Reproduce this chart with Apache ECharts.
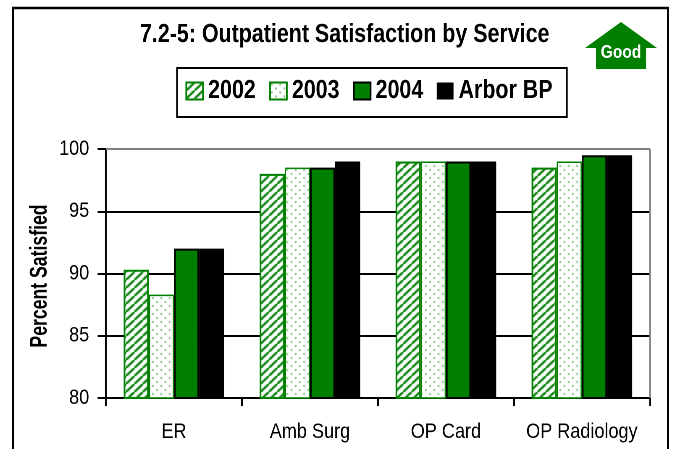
<!DOCTYPE html>
<html><head><meta charset="utf-8">
<style>html,body{margin:0;padding:0;background:#fff;overflow:hidden}
#c{width:801.2px;height:449px;transform:scaleX(0.84);transform-origin:0 0}</style>
<script src="https://cdn.jsdelivr.net/npm/echarts@6/dist/echarts.min.js"></script></head>
<body><div id="c"></div>
<script>
const categories = ['ER','Amb Surg','OP Card','OP Radiology'];
const seriesNames = ['2002','2003','2004','Arbor BP'];
const values2002 = [90.3,98,99,98.5];
const values2003 = [88.3,98.5,99,99];
const values2004 = [92,98.5,99,99.5];
const valuesArbor = [92,99,99,99.5];
const GREEN='#007f00';
const S=0.84, X=x=>x/S;
function hatch(){const c=document.createElement('canvas');c.width=10;c.height=8;const g=c.getContext('2d');
 g.fillStyle='#fff';g.fillRect(0,0,10,8);g.strokeStyle=GREEN;g.lineWidth=2.4;
 [[-10,8,0,0],[0,8,10,0],[10,8,20,0]].forEach(l=>{g.beginPath();g.moveTo(l[0],l[1]);g.lineTo(l[2],l[3]);g.stroke();});return c;}
function dots(){const c=document.createElement('canvas');c.width=10;c.height=8;const g=c.getContext('2d');
 g.fillStyle='#fff';g.fillRect(0,0,10,8);g.fillStyle='#7fc07f';g.fillRect(1,1,2,2);g.fillRect(6,5,2,2);return c;}
const styles=[
 {color:{image:hatch(),repeat:'repeat'},borderColor:GREEN,borderWidth:2},
 {color:{image:dots(),repeat:'repeat'},borderColor:GREEN,borderWidth:1.5},
 {color:GREEN,borderColor:'#000',borderWidth:2},
 {color:'#000',borderColor:'#000',borderWidth:0}];
const all=[values2002,values2003,values2004,valuesArbor];
const FF='"Liberation Sans",Arial,sans-serif';
const chart=echarts.init(document.getElementById('c'),null,{renderer:'canvas',devicePixelRatio:2});
chart.setOption({
 animation:false,
 backgroundColor:'#fff',
 title:{text:'7.2-5: Outpatient Satisfaction by Service',left:X(340.5),top:17,textAlign:'center',
  textStyle:{fontFamily:FF,fontSize:25.5,fontWeight:'bold',color:'#000'}},
 legend:{data:seriesNames,icon:'rect',left:X(177),top:68,itemWidth:20,itemHeight:17,itemGap:16,
  padding:[10,17,13,10],borderColor:'#000',borderWidth:2,backgroundColor:'#fff',
  textStyle:{fontFamily:FF,fontSize:25.5,fontWeight:'bold',color:'#000',padding:[0,0,0,1]}},
 grid:{left:X(106),right:X(23),top:149,bottom:51,show:false},
 xAxis:{type:'category',data:categories,
  axisLine:{lineStyle:{color:'#000',width:2}},
  axisTick:{show:true,length:8,lineStyle:{color:'#000',width:2}},
  axisLabel:{interval:0,fontFamily:FF,fontSize:21.5,color:'#000',margin:23}},
 yAxis:{type:'value',min:80,max:100,interval:5,
  axisLine:{show:true,lineStyle:{color:'#000',width:2}},
  axisTick:{show:true,length:10,lineStyle:{color:'#000',width:2}},
  axisLabel:{fontFamily:FF,fontSize:21.5,color:'#000',margin:20},
  splitLine:{show:true,lineStyle:{color:'#000',width:2}}},
 series:all.map((d,i)=>({name:seriesNames[i],type:'bar',data:d,barGap:'0%',barCategoryGap:'26%',itemStyle:styles[i]})),
 graphic:[
  {type:'rect',shape:{x:X(13),y:8,width:X(655),height:460},style:{fill:'none',stroke:'#000',lineWidth:2.4},z:-1,silent:true},
  {type:'polygon',shape:{points:[[X(621),22],[X(657),48],[X(646),48],[X(646),69],[X(596),69],[X(596),48],[X(585),48]]},style:{fill:GREEN},z:5},
  {type:'text',style:{text:'Good',x:X(621),y:53,align:'center',verticalAlign:'middle',fontFamily:FF,fontSize:18.5,fontWeight:'bold',fill:'#fff'},z:6},
  {type:'text',x:X(40),y:276,rotation:Math.PI/2,scaleX:0.735,scaleY:1/S,style:{text:'Percent Satisfied',align:'center',verticalAlign:'middle',fontFamily:FF,fontSize:24,fontWeight:'bold',fill:'#000'},z:6},
  {type:'line',shape:{x1:X(106),y1:149,x2:X(650),y2:149},style:{stroke:'#808080',lineWidth:2},z:1},
  {type:'line',shape:{x1:X(650),y1:149,x2:X(650),y2:398},style:{stroke:'#808080',lineWidth:2},z:1}
 ]
});
</script></body></html>
